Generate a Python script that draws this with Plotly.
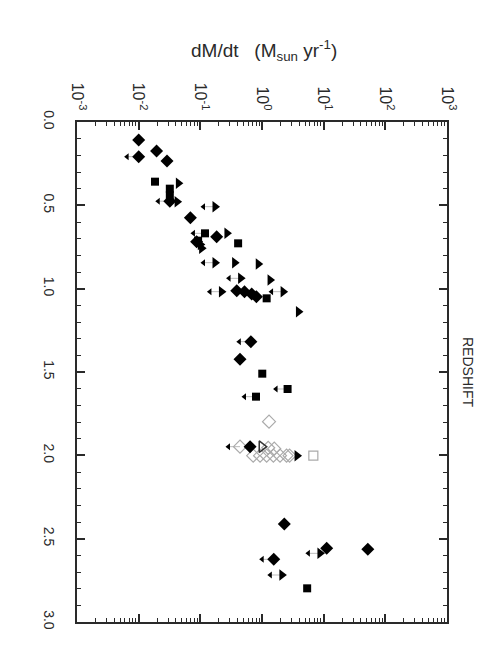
import plotly.graph_objects as go

# redshift, dM/dt (Msun/yr), upper-limit flag
dia_z = [0.108, 0.174, 0.208, 0.234, 0.475, 0.574, 0.688, 0.718, 1.012, 1.018, 1.032, 1.048,
         1.318, 1.424, 1.948, 2.412, 2.558, 2.564, 2.624]
dia_m = [0.010, 0.0195, 0.010, 0.0288, 0.032, 0.069, 0.184, 0.087, 0.39, 0.52, 0.68, 0.81,
         0.66, 0.44, 0.64, 2.3, 11.2, 52.0, 1.55]
dia_ul = [0, 0, 1, 0, 1, 0, 0, 0, 0, 0, 0, 0, 1, 0, 0, 0, 0, 0, 1]

sq_z = [0.358, 0.400, 0.440, 0.668, 0.712, 0.728, 1.058, 1.510, 1.602, 1.648, 2.798]
sq_m = [0.0184, 0.032, 0.032, 0.119, 0.092, 0.41, 1.19, 1.01, 2.6, 0.80, 5.4]
sq_ul = [0, 0, 0, 1, 0, 0, 0, 0, 1, 1, 0]

tri_z = [0.368, 0.478, 0.508, 0.668, 0.735, 0.758, 0.844, 0.844, 0.852, 0.938, 0.948,
         1.018, 1.018, 1.138, 2.002, 2.588, 2.718]
tri_m = [0.044, 0.042, 0.173, 0.27, 0.10, 0.105, 0.173, 0.36, 0.87, 0.45, 1.35,
         0.22, 2.2, 3.9, 3.7, 8.7, 2.1]
tri_ul = [0, 0, 1, 0, 0, 0, 1, 0, 0, 1, 0, 1, 1, 0, 0, 1, 1]

odia_z = [1.798, 1.948, 1.955, 1.960, 2.002, 2.002, 2.002, 2.002, 2.002, 2.002, 2.002]
odia_m = [1.30, 0.44, 1.26, 1.58, 0.72, 0.93, 1.19, 1.53, 1.96, 2.5, 2.8]
odia_ul = [0, 1, 0, 0, 0, 0, 0, 0, 0, 0, 0]

osq_z = [2.002]
osq_m = [6.8]

otri_z = [1.948]
otri_m = [0.99]

decades = [1e-3, 1e-2, 1e-1, 1e0, 1e1, 1e2, 1e3]
decade_labels = ["10<sup>-3</sup>", "10<sup>-2</sup>", "10<sup>-1</sup>", "10<sup>0</sup>",
                 "10<sup>1</sup>", "10<sup>2</sup>", "10<sup>3</sup>"]

ARROW = 0.65  # arrow tip sits ~0.19 dex left of the point
INK = "#2a2a2a"

fig = go.Figure()

# upper-limit arrows
ax, ay, lx, ly = [], [], [], []
for zs, ms, uls in [(dia_z, dia_m, dia_ul), (sq_z, sq_m, sq_ul), (tri_z, tri_m, tri_ul),
                    (odia_z, odia_m, odia_ul)]:
    for z, m, u in zip(zs, ms, uls):
        if u:
            ax.append(m * ARROW)
            ay.append(z)
            lx += [m * ARROW, m, None]
            ly += [z, z, None]
fig.add_trace(go.Scatter(x=lx, y=ly, mode="lines", line=dict(color="#bbbbbb", width=1),
                         hoverinfo="skip"))
fig.add_trace(go.Scatter(x=ax, y=ay, mode="markers",
                         marker=dict(symbol="triangle-left", size=6, color="black")))

fig.add_trace(go.Scatter(x=odia_m, y=odia_z, mode="markers",
                         marker=dict(symbol="diamond-open", size=10, color="#aaaaaa",
                                     line=dict(width=1.2))))
fig.add_trace(go.Scatter(x=osq_m, y=osq_z, mode="markers",
                         marker=dict(symbol="square-open", size=9, color="#aaaaaa",
                                     line=dict(width=1.2))))
fig.add_trace(go.Scatter(x=otri_m, y=otri_z, mode="markers",
                         marker=dict(symbol="triangle-right-open", size=10, color="#333333",
                                     line=dict(width=1.5))))
fig.add_trace(go.Scatter(x=dia_m, y=dia_z, mode="markers",
                         marker=dict(symbol="diamond", size=10, color="black")))
fig.add_trace(go.Scatter(x=sq_m, y=sq_z, mode="markers",
                         marker=dict(symbol="square", size=8, color="black")))
fig.add_trace(go.Scatter(x=tri_m, y=tri_z, mode="markers",
                         marker=dict(symbol="triangle-right", size=10, color="black")))

minor_vals = [d * k for d in decades[:-1] for k in range(2, 10)]

# page body keeps its default 8px margin, so the figure is sized to fit inside it
fig.update_layout(
    width=469, height=642,
    margin=dict(l=69, r=30, t=114, b=28),
    paper_bgcolor="white", plot_bgcolor="white",
    showlegend=False,
    font=dict(family="Liberation Sans, Arial, sans-serif", color=INK, size=14),
)
fig.update_xaxes(
    type="log", range=[-3, 3], side="top",
    tickvals=decades, ticktext=decade_labels, tickangle=90, tickfont=dict(size=16),
    ticks="inside", ticklen=8, tickwidth=1.5, tickcolor=INK,
    minor=dict(tickvals=minor_vals, ticks="inside", ticklen=4, tickwidth=1, tickcolor=INK),
    showline=True, linecolor=INK, linewidth=2, mirror="ticks",
    showgrid=False, zeroline=False, ticklabelstandoff=4,
)
fig.update_yaxes(
    range=[3, 0], tick0=0, dtick=0.5, tickformat=".1f", tickangle=90,
    ticks="inside", ticklen=8, tickwidth=1.5, tickcolor=INK,
    minor=dict(dtick=0.1, ticks="inside", ticklen=4, tickwidth=1, tickcolor=INK),
    showline=True, linecolor=INK, linewidth=2, mirror="ticks",
    showgrid=False, zeroline=False, ticklabelstandoff=14,
)
fig.add_annotation(text="dM/dt   (M<sub>sun</sub> yr<sup>-1</sup>)", xref="paper", yref="paper",
                   x=0.505, y=1, yanchor="middle", yshift=72, showarrow=False,
                   font=dict(size=19))
fig.add_annotation(text="REDSHIFT", xref="paper", yref="paper", x=1, y=0.5,
                   xanchor="center", yanchor="middle", xshift=21,
                   textangle=90, showarrow=False, font=dict(size=14))

fig.write_html("out.html")
